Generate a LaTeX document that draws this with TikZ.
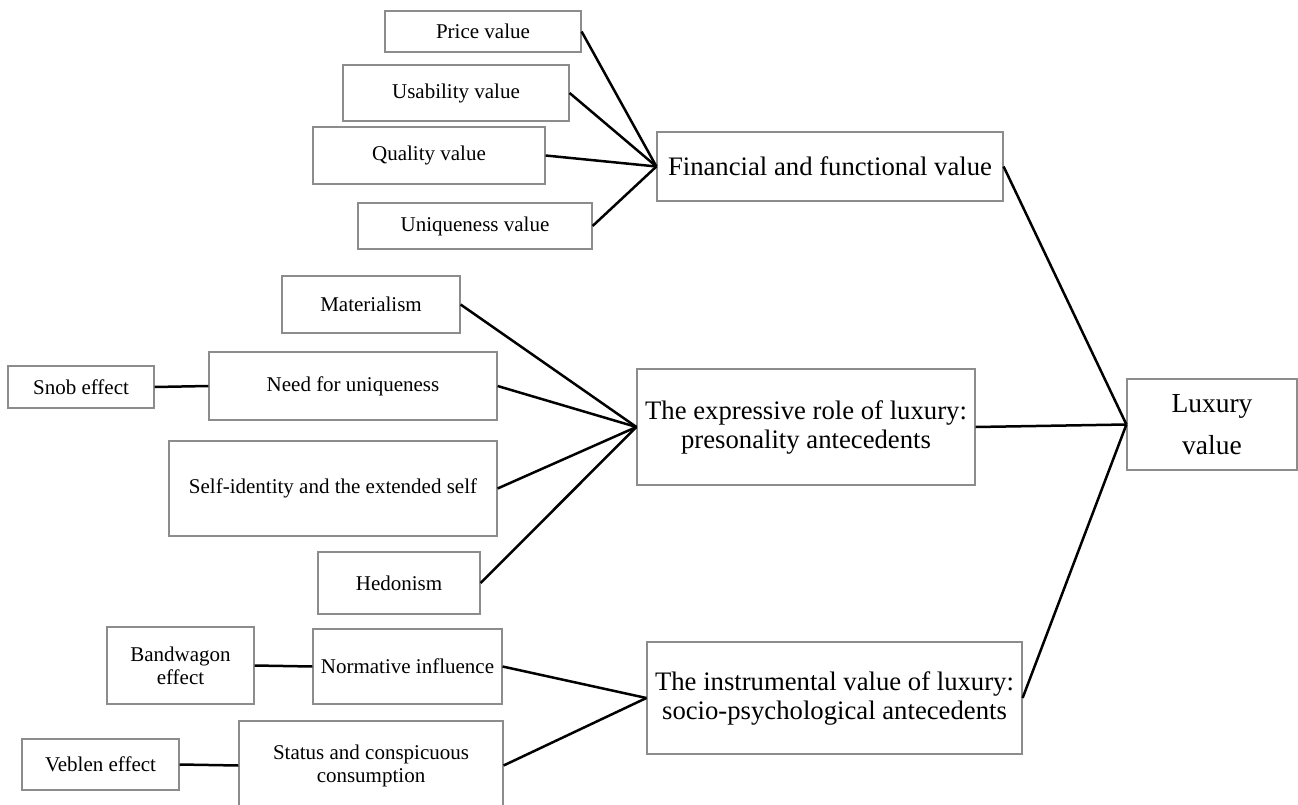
\documentclass[tikz,border=0pt]{standalone}
\usepackage{fontspec}
\setmainfont{Liberation Serif}
\begin{document}
\begin{tikzpicture}[x=1pt,y=-1pt,
  box/.style={draw=black!45, line width=1.2pt, fill=white, inner sep=0pt, align=center, font=\fontsize{21}{23}\selectfont},
  bigbox/.style={box, font=\fontsize{26.7}{29}\selectfont},
  conn/.style={draw=black, line width=2.5pt}]
\useasboundingbox (0,0) rectangle (1298,805);
\clip (0,0) rectangle (1298,805);
% top group
\node[box, minimum width=196pt, minimum height=41pt] (price) at (483,31.5) {Price value};
\node[box, minimum width=226pt, minimum height=56pt] (usab) at (456,93) {Usability value};
\node[box, minimum width=232pt, minimum height=57pt] (qual) at (429,155.5) {Quality value};
\node[box, minimum width=234pt, minimum height=46pt] (uniq) at (475,226) {Uniqueness value};
\node[bigbox, minimum width=346pt, minimum height=69pt] (fin) at (830,166.5) {Financial and functional value};
% middle group
\node[box, minimum width=178pt, minimum height=57pt] (mat) at (371,304.5) {Materialism};
\node[box, minimum width=146pt, minimum height=42pt] (snob) at (81,387) {Snob effect};
\node[box, minimum width=288pt, minimum height=68pt] (need) at (353,386) {Need for uniqueness};
\node[box, minimum width=328pt, minimum height=95pt] (self) at (333,488.5) {Self-identity and the extended self};
\node[box, minimum width=162pt, minimum height=62pt] (hedo) at (399,583) {Hedonism};
\node[bigbox, minimum width=338pt, minimum height=116pt] (expr) at (806,427) {The expressive role of luxury:\\presonality antecedents};
% right
\node[bigbox, font=\fontsize{27.5}{42}\selectfont, minimum width=170pt, minimum height=91pt] (lux) at (1212,424.5) {Luxury\\value};
% bottom group
\node[box, minimum width=147pt, minimum height=77pt] (band) at (180.5,665.5) {Bandwagon\\effect};
\node[box, minimum width=189pt, minimum height=75pt] (norm) at (407.5,666.5) {Normative influence};
\node[box, minimum width=157pt, minimum height=51pt] (veb) at (100.5,764.5) {Veblen effect};
\node[box, minimum width=264pt, minimum height=89pt] (stat) at (371,765.5) {Status and conspicuous\\consumption};
\node[bigbox, minimum width=375pt, minimum height=112pt] (instr) at (834.5,698) {The instrumental value of luxury:\\socio-psychological antecedents};
% connectors
\draw[conn] (price.east) -- (fin.west);
\draw[conn] (usab.east) -- (fin.west);
\draw[conn] (qual.east) -- (fin.west);
\draw[conn] (uniq.east) -- (fin.west);
\draw[conn] (mat.east) -- (expr.west);
\draw[conn] (need.east) -- (expr.west);
\draw[conn] (self.east) -- (expr.west);
\draw[conn] (hedo.east) -- (expr.west);
\draw[conn] (snob.east) -- (need.west);
\draw[conn] (band.east) -- (norm.west);
\draw[conn] (veb.east) -- (stat.west);
\draw[conn] (norm.east) -- (instr.west);
\draw[conn] (stat.east) -- (instr.west);
\draw[conn] (fin.east) -- (lux.west);
\draw[conn] (expr.east) -- (lux.west);
\draw[conn] (instr.east) -- (lux.west);
\end{tikzpicture}
\end{document}
